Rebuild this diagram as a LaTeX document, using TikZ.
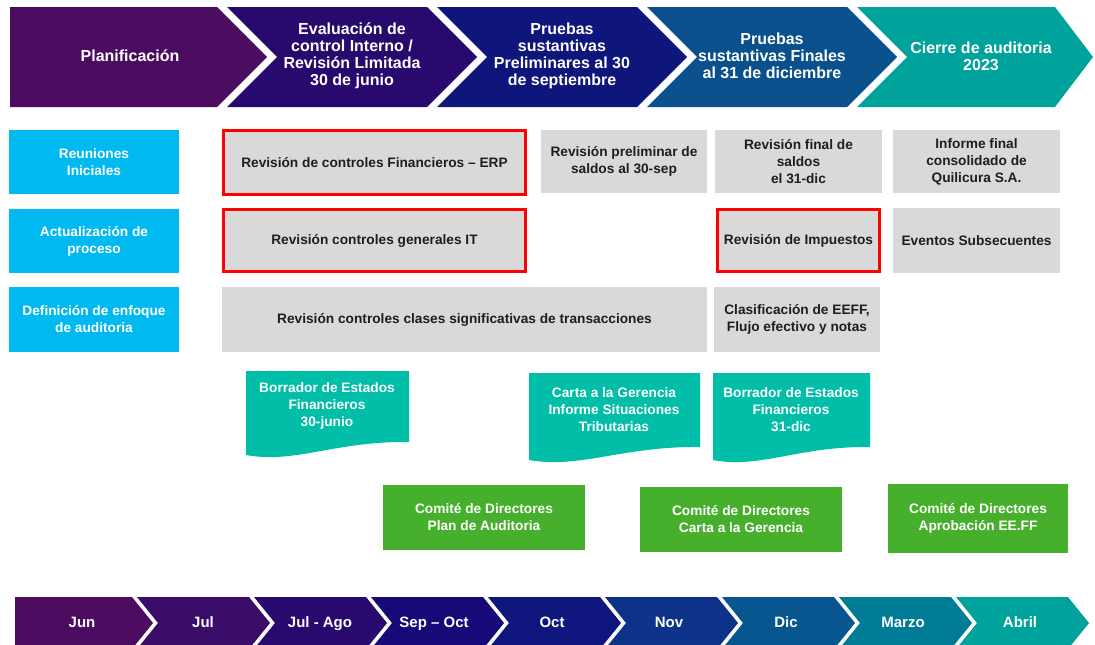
\documentclass[tikz,border=0pt]{standalone}
\usepackage{fontspec}
\setmainfont{Liberation Sans}
\definecolor{phaseA}{RGB}{75,12,95}
\definecolor{phaseB}{RGB}{40,10,110}
\definecolor{phaseC}{RGB}{14,22,124}
\definecolor{phaseD}{RGB}{10,80,140}
\definecolor{phaseE}{RGB}{0,162,156}
\definecolor{monA}{RGB}{75,12,95}
\definecolor{monB}{RGB}{56,12,104}
\definecolor{monC}{RGB}{40,10,110}
\definecolor{monD}{RGB}{22,10,120}
\definecolor{monE}{RGB}{15,22,125}
\definecolor{monF}{RGB}{14,50,135}
\definecolor{monG}{RGB}{8,86,144}
\definecolor{monH}{RGB}{0,124,150}
\definecolor{monI}{RGB}{0,162,156}
\definecolor{rowblue}{RGB}{0,185,240}
\definecolor{boxgray}{RGB}{217,217,217}
\definecolor{boxtext}{RGB}{30,30,30}
\definecolor{docteal}{RGB}{0,190,168}
\definecolor{boardgreen}{RGB}{70,176,44}
\begin{document}
\begin{tikzpicture}[
                            x=1pt, y=-1pt,
                            phase/.style={text=white, align=center, font=\bfseries\fontsize{16}{17}\selectfont},
                            month/.style={text=white, text height=11pt, text depth=3pt, font=\bfseries\fontsize{15}{17}\selectfont},
                            box/.style={rectangle, fill=boxgray, text=boxtext, align=center, inner sep=0pt, font=\bfseries\fontsize{13.7}{17}\selectfont},
                            redbox/.style={box, draw=red, line width=3pt},
                            rowbox/.style={box, fill=rowblue, text=white, minimum width=170pt},
                            boardbox/.style={box, fill=boardgreen, text=white},
                            doctext/.style={text=white, align=center, font=\bfseries\fontsize{13.7}{17}\selectfont}
                        ]
                        \useasboundingbox (0,0) rectangle (1095,645);
                        % Phases
                        \fill[phaseA] (10,7) -- (217,7) -- (267,57) -- (217,107) -- (10,107) -- cycle;
                        \fill[phaseB] (227,7) -- (427,7) -- (477,57) -- (427,107) -- (227,107) -- (277,57) -- cycle;
                        \fill[phaseC] (437,7) -- (637,7) -- (687,57) -- (637,107) -- (437,107) -- (487,57) -- cycle;
                        \fill[phaseD] (647,7) -- (847,7) -- (897,57) -- (847,107) -- (647,107) -- (697,57) -- cycle;
                        \fill[phaseE] (857,7) -- (1055,7) -- (1093,57) -- (1055,107) -- (857,107) -- (907,57) -- cycle;
                        \node [phase] (plan) at (130,56) {Planificación};
                        \node [phase] (evalci) at (352,56) {Evaluación de\\control Interno /\\Revisión Limitada\\30 de junio};
                        \node [phase] (pprelim) at (562,56) {Pruebas\\sustantivas\\Preliminares al 30\\de septiembre};
                        \node [phase] (pfinal) at (772,56) {Pruebas\\sustantivas Finales\\al 31 de diciembre};
                        \node [phase] (cierre) at (981,56) {Cierre de auditoria\\2023};

                        % Rows
                        \node [rowbox, minimum height=64pt] (reuniones) at (94,162) {Reuniones\\Iniciales};
                        \node [rowbox, minimum height=64pt] (actualiz) at (94,241) {Actualización de\\proceso};
                        \node [rowbox, minimum height=65pt] (enfoque) at (94,319.5) {Definición de enfoque\\de auditoria};

                        \node [redbox, minimum width=302pt, minimum height=64pt] (ctrlfin) at (374.5,162.5) {Revisión de controles Financieros -- ERP};
                        \node [box, minimum width=166pt, minimum height=63pt] (prelim) at (624,161.5) {Revisión preliminar de\\saldos al 30-sep};
                        \node [box, minimum width=167pt, minimum height=63pt] (finsaldos) at (798.5,161.5) {Revisión final de\\saldos\\el 31-dic};
                        \node [box, minimum width=167pt, minimum height=63pt] (informe) at (976.5,161.5) {Informe final\\consolidado de\\Quilicura S.A.};

                        \node [redbox, minimum width=302pt, minimum height=62pt] (ctrlit) at (374.5,240.5) {Revisión controles generales IT};
                        \node [redbox, minimum width=162pt, minimum height=62pt] (impuestos) at (798.5,240.5) {Revisión de Impuestos};
                        \node [box, minimum width=167pt, minimum height=65pt] (eventos) at (976.5,240.5) {Eventos Subsecuentes};

                        \node [box, minimum width=485pt, minimum height=65pt] (clases) at (464.5,319.5) {Revisión controles clases significativas de transacciones};
                        \node [box, minimum width=166pt, minimum height=65pt] (clasif) at (797,319.5) {Clasificación de EEFF,\\Flujo efectivo y notas};

                        % Documents
                        \fill[docteal] (246,371) -- (409,371) -- (409,442) .. controls (335,441) and (295,464) .. (246,455) -- cycle;
                        \fill[docteal] (529,373) -- (700,373) -- (700,447) .. controls (623,446) and (580,469) .. (529,460) -- cycle;
                        \fill[docteal] (713,373) -- (870,373) -- (870,447) .. controls (799,446) and (760,469) .. (713,460) -- cycle;
                        \node [doctext] (borrjun) at (327,406) {Borrador de Estados\\Financieros\\30-junio};
                        \node [doctext] (carta) at (614,410) {Carta a la Gerencia\\Informe Situaciones\\Tributarias};
                        \node [doctext] (borrdic) at (791,410) {Borrador de Estados\\Financieros\\31-dic};

                        % Committees
                        \node [boardbox, minimum width=202pt, minimum height=65pt] (complan) at (484,517.5) {Comité de Directores\\Plan de Auditoria};
                        \node [boardbox, minimum width=202pt, minimum height=65pt] (comcarta) at (741,519.5) {Comité de Directores\\Carta a la Gerencia};
                        \node [boardbox, minimum width=180pt, minimum height=69pt] (comaprob) at (978,518.5) {Comité de Directores\\Aprobación EE.FF};

                        % Months
                        \fill[monA] (15,597) -- (132,597) -- (153,623) -- (132,649) -- (15,649) -- cycle;
                        \fill[monB] (137,597) -- (249,597) -- (270,623) -- (249,649) -- (137,649) -- (158,623) -- cycle;
                        \fill[monC] (254,597) -- (366,597) -- (387,623) -- (366,649) -- (254,649) -- (275,623) -- cycle;
                        \fill[monD] (371,597) -- (483,597) -- (504,623) -- (483,649) -- (371,649) -- (392,623) -- cycle;
                        \fill[monE] (488,597) -- (600,597) -- (621,623) -- (600,649) -- (488,649) -- (509,623) -- cycle;
                        \fill[monF] (605,597) -- (717,597) -- (738,623) -- (717,649) -- (605,649) -- (626,623) -- cycle;
                        \fill[monG] (722,597) -- (834,597) -- (855,623) -- (834,649) -- (722,649) -- (743,623) -- cycle;
                        \fill[monH] (839,597) -- (951,597) -- (972,623) -- (951,649) -- (839,649) -- (860,623) -- cycle;
                        \fill[monI] (956,597) -- (1068,597) -- (1089,623) -- (1068,649) -- (956,649) -- (977,623) -- cycle;
                        \node [month] (jun) at (82,623) {Jun};
                        \node [month] (jul) at (203,623) {Jul};
                        \node [month] (julago) at (320,623) {Jul - Ago};
                        \node [month] (sepoct) at (434,623) {Sep -- Oct};
                        \node [month] (oct) at (552,623) {Oct};
                        \node [month] (nov) at (669,623) {Nov};
                        \node [month] (dic) at (786,623) {Dic};
                        \node [month] (marzo) at (903,623) {Marzo};
                        \node [month] (abril) at (1020,623) {Abril};
                    \end{tikzpicture}
\end{document}
